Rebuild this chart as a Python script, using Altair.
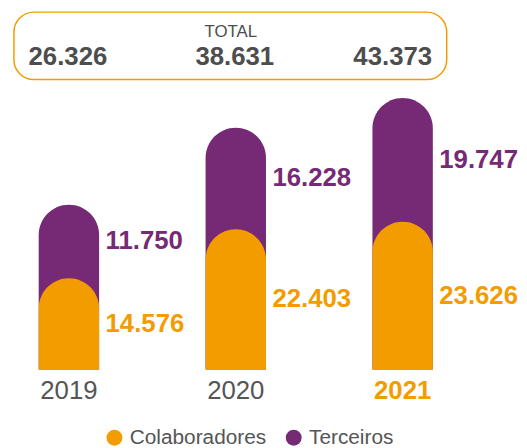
import altair as alt
import pandas as pd

years = ["2019", "2020", "2021"]
colaboradores = [14576, 22403, 23626]
terceiros = [11750, 16228, 19747]
series = ["Colaboradores", "Terceiros"]

ORANGE = "#F39C00"
PURPLE = "#762A76"
GRAY = "#555555"
DARK = "#4D4D4D"
FONT = "Liberation Sans"


def fmt(v):
    return f"{v:,}".replace(",", ".")


rows = []
for y, c, t in zip(years, colaboradores, terceiros):
    rows.append(dict(year=y, serie="Terceiros", top=c + t, base=0, mid=c + t / 2,
                     label=fmt(t), total=fmt(c + t)))
    rows.append(dict(year=y, serie="Colaboradores", top=c, base=0, mid=c / 2,
                     label=fmt(c), total=fmt(c + t)))
df = pd.DataFrame(rows)

W, H = 460, 363
xenc = alt.X("year:N",
             scale=alt.Scale(domain=years, paddingInner=0.638, paddingOuter=0.184, round=False),
             axis=alt.Axis(title=None, domain=False, ticks=False, grid=False, labelAngle=0,
                           labelFontSize=26, labelFont=FONT, labelPadding=8,
                           labelColor=alt.ExprRef(expr=f"datum.value == '2021' ? '{ORANGE}' : '{GRAY}'"),
                           labelFontWeight=alt.ExprRef(expr="datum.value == '2021' ? 'bold' : 'normal'")))
yscale = alt.Scale(domain=[0, 57400], nice=False)
color = alt.Color("serie:N", scale=alt.Scale(domain=series, range=[ORANGE, PURPLE]),
                  legend=alt.Legend(orient="none", legendX=97, legendY=421, direction="horizontal",
                                    title=None, symbolType="circle", symbolSize=256,
                                    symbolStrokeWidth=0, labelFontSize=21, labelFont=FONT,
                                    labelColor=GRAY, columnPadding=17, labelOffset=5, padding=0))

base = alt.Chart(df)

bars_t = base.transform_filter("datum.serie == 'Terceiros'").mark_bar(
    cornerRadiusTopLeft=30.5, cornerRadiusTopRight=30.5).encode(
    x=xenc, y=alt.Y("top:Q", scale=yscale, axis=None), y2="base:Q", color=color)
bars_c = base.transform_filter("datum.serie == 'Colaboradores'").mark_bar(
    cornerRadiusTopLeft=30.5, cornerRadiusTopRight=30.5).encode(
    x=xenc, y=alt.Y("top:Q", scale=yscale, axis=None), y2="base:Q", color=color)

lab_t = base.transform_filter("datum.serie == 'Terceiros'").mark_text(
    align="left", baseline="middle", dx=37, fontSize=26, fontWeight="bold", font=FONT, color=PURPLE).encode(
    x=xenc, y=alt.Y("mid:Q", scale=yscale, axis=None), text="label:N")
lab_c = base.transform_filter("datum.serie == 'Colaboradores'").mark_text(
    align="left", baseline="middle", dx=37, fontSize=26, fontWeight="bold", font=FONT, color=ORANGE).encode(
    x=xenc, y=alt.Y("mid:Q", scale=yscale, axis=None), text="label:N")

box = alt.Chart(pd.DataFrame({"k": [0]})).mark_rect(
    fill="white", stroke=ORANGE, strokeWidth=1.5, cornerRadius=20).encode(
    x=alt.value(6), x2=alt.value(443), y=alt.value(2), y2=alt.value(70))
total_title = alt.Chart(pd.DataFrame({"t": ["TOTAL"]})).mark_text(
    fontSize=17, font=FONT, color=DARK, baseline="middle").encode(
    x=alt.value(225), y=alt.value(22), text="t:N")
totals_a = base.transform_filter("datum.serie == 'Terceiros' && datum.year != '2021'").mark_text(
    fontSize=26, fontWeight="bold", font=FONT, color=DARK, baseline="middle", dx=-1).encode(
    x=xenc, y=alt.value(47), text="total:N")
totals_b = base.transform_filter("datum.serie == 'Terceiros' && datum.year == '2021'").mark_text(
    fontSize=26, fontWeight="bold", font=FONT, color=DARK, baseline="middle", dx=-10).encode(
    x=xenc, y=alt.value(47), text="total:N")

chart = alt.layer(box, total_title, totals_a, totals_b, bars_t, bars_c, lab_t, lab_c).properties(
    width=W, height=H, padding=0).configure(font=FONT).configure_view(stroke=None)

chart.save("out.html", embed_options={"renderer": "svg", "actions": False})
